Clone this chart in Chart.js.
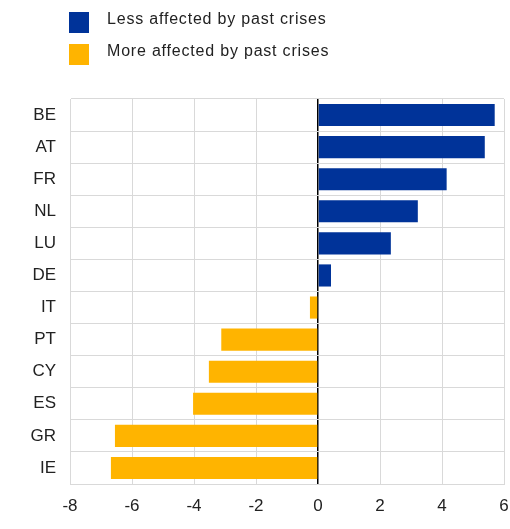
<!DOCTYPE html>
<html>
<head>
<meta charset="utf-8">
<script src="https://cdn.jsdelivr.net/npm/chart.js@4/dist/chart.umd.min.js"></script>
<style>
  html, body { margin: 0; padding: 0; background: #fff; }
  #wrap { position: relative; width: 510px; height: 529px; }
  .leg { position: absolute; left: 69px; font: 16px "Liberation Sans", Arial, sans-serif; color: #222; white-space: nowrap; }
  .leg span.box { position: absolute; left: 0; top: 0; width: 20px; height: 21px; }
  .leg span.txt { position: absolute; left: 38px; top: -2px; letter-spacing: 0.8px; }
</style>
</head>
<body>
<div id="wrap">
  <canvas id="chart" width="510" height="529"></canvas>
  <div class="leg" style="top:12px"><span class="box" style="background:#003399"></span><span class="txt" id="l1"></span></div>
  <div class="leg" style="top:44px"><span class="box" style="background:#ffb400"></span><span class="txt" id="l2"></span></div>
</div>
<script>
// categories and values
const countries = ["BE", "AT", "FR", "NL", "LU", "DE", "IT", "PT", "CY", "ES", "GR", "IE"];
const lessAffected = [5.7, 5.38, 4.15, 3.22, 2.35, 0.42, null, null, null, null, null, null];
const moreAffected = [null, null, null, null, null, null, -0.26, -3.12, -3.52, -4.03, -6.55, -6.68];
const seriesNames = ["Less affected by past crises", "More affected by past crises"];

document.getElementById("l1").textContent = seriesNames[0];
document.getElementById("l2").textContent = seriesNames[1];

const font = { family: "'Liberation Sans', Arial, sans-serif", size: 17 };

const config = {
    type: "bar",
    data: {
        labels: countries,
        datasets: [
            { label: seriesNames[0], data: lessAffected, backgroundColor: "#003399" },
            { label: seriesNames[1], data: moreAffected, backgroundColor: "#ffb400" }
        ]
    },
    options: {
        indexAxis: "y",
        responsive: false,
        animation: false,
        categoryPercentage: 1,
        barPercentage: 0.69,
        layout: { padding: { top: 99, right: 6, left: 0, bottom: 0 } },
        plugins: { legend: { display: false }, tooltip: { enabled: false } },
        scales: {
            x: {
                stacked: true,
                min: -8, max: 6,
                ticks: { stepSize: 2, color: "#222", font, padding: 12 },
                grid: {
                    drawTicks: false,
                    color: ctx => ctx.tick && ctx.tick.value === 0 ? "#000" : "#d9d9d9",
                    lineWidth: ctx => ctx.tick && ctx.tick.value === 0 ? 1.5 : 1
                },
                border: { color: "#d9d9d9" },
                afterFit: s => { s.height = 45; s.paddingRight = 0; s.paddingLeft = 0; }
            },
            y: {
                stacked: true,
                ticks: { color: "#222", font, padding: 14 },
                grid: { drawTicks: false, color: "#d9d9d9", lineWidth: 1 },
                border: { color: "#d9d9d9" },
                afterFit: s => { s.width = 70; }
            }
        }
    }
};

new Chart(document.getElementById("chart"), config);
</script>
</body>
</html>
